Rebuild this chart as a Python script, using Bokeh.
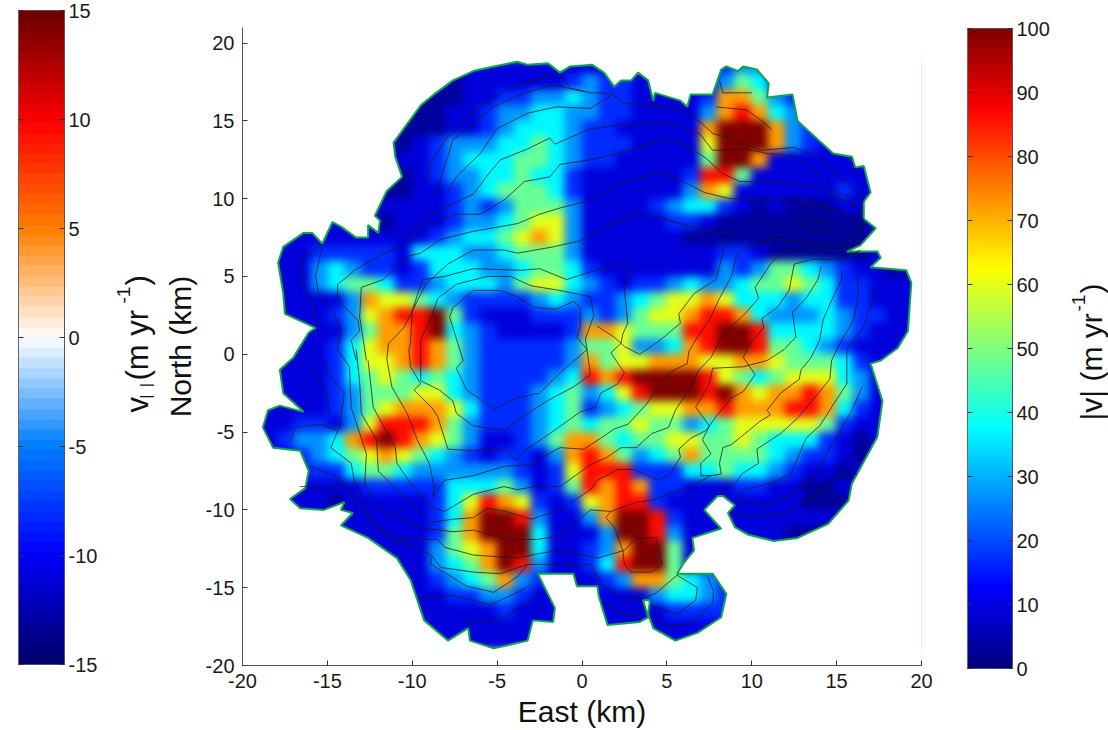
from bokeh.plotting import figure
from bokeh.layouts import row, column
from bokeh.models import LinearAxis, FixedTicker, LinearColorMapper, Range1d, CustomJS
from bokeh.io import curdoc
from bokeh.core.properties import value
from bokeh.embed import file_html
from bokeh.resources import INLINE
import numpy as np

FONT = "Liberation Sans"

# speed classes (m/yr), one digit per 1 km cell
level_speed = [3, 9, 17, 27, 37, 48, 60, 72, 86, 100]
# rows run north to south from y=19 to y=-19, columns west to east from x=-20 to x=20
speed_rows = [
"..... ..... ....1 11111 11... ...23 32... .....",
"..... ..... ..011 11112 32212 ...35 42... .....",
"..... ..... 00011 22334 32211 11277 53211 .....",
"..... ....0 00112 33443 32211 11378 74311 1....",
"..... ....0 00112 34443 22111 11799 97320 .....",
"..... ....0 12333 44543 22211 11699 97321 1....",
"..... ....1 12344 45543 22111 11599 71111 11...",
"..... ....0 12334 45442 11111 12885 11111 11...",
"..... ...00 11234 55542 11111 13761 11111 21...",
"..... ...11 11232 35553 11112 34421 01000 11...",
"..... ...01 11233 45663 11111 22100 00000 00...",
"...11 11111 12344 56763 11111 10000 00000 00...",
"..112 22221 44433 45553 11111 11122 10000 001..",
"..113 43221 24443 34554 21111 11132 35543 21100",
"..113 45542 23444 35664 32122 34334 55654 22111",
"..111 13766 54322 22343 22345 66764 44344 22111",
"..111 23678 89521 11222 32356 67887 43334 32211",
"..111 13577 89432 11112 77655 58899 84444 32111",
"...11 24677 87532 22223 55633 47899 85543 2111.",
"..111 24667 87532 22223 75667 77667 76555 421..",
"...11 24565 45432 22234 87899 99865 45666 431..",
"..111 23555 66432 22345 34689 99897 67787 531..",
".1111 23567 77642 22345 23456 67787 77887 421..",
".1122 13688 87532 22345 45565 53456 66665 211..",
".1233 47898 76531 12357 75455 66556 54442 10...",
"..123 45676 54321 22137 87534 57555 54322 10...",
"...22 24554 33333 32126 88822 24454 43211 0....",
"...11 11222 22444 53125 87872 21112 21100 .....",
"...11 01111 12468 76212 67882 11111 11100 0....",
"..... .1111 12479 98311 37998 21111 11111 .....",
"..... ..111 12579 99411 13998 31111 11000 .....",
"..... ...11 13567 99411 23799 51111 ..... .....",
"..... ....1 13457 98311 24899 51111 ..... .....",
"..... ....1 12345 73211 12377 54322 ..... .....",
"..... ..... 11223 32111 11113 44322 ..... .....",
"..... ..... 11111 21111 11111 22221 ..... .....",
"..... ..... .1111 11111 11111 1111. ..... .....",
"..... ..... ..111 1111. ..... 11... ..... .....",
]

outline = [(-11.1,13.6),(-10.5,14.5),(-9.5,16.0),(-8.6,16.8),(-7.6,17.6),(-6.4,18.2),(-5.2,18.5),(-3.8,18.8),(-3.2,18.6),
(-2.0,18.7),(-1.3,18.1),(-0.7,18.5),(0.6,18.6),(1.3,18.1),(1.9,17.2),(2.3,17.6),(2.9,17.6),(3.3,18.1),(3.9,17.6),(4.2,16.3),
(4.3,16.8),(5.8,16.3),(6.2,15.9),(6.4,16.7),(7.7,16.7),(8.2,18.3),(8.5,18.5),(9.2,18.2),(9.5,18.5),(10.3,18.3),(11.0,17.4),
(10.9,16.5),(12.4,16.7),(12.7,15.0),(13.6,14.1),(14.8,12.9),(15.9,12.7),(16.1,12.0),(16.6,12.1),(17.0,10.4),(16.6,9.8),
(16.6,8.7),(17.3,8.1),(16.4,7.0),(15.6,6.6),(17.4,6.6),(17.6,6.2),(17.0,5.6),(19.1,5.4),(19.4,4.6),(19.2,1.5),(18.6,0.4),
(17.6,-0.4),(17.0,-0.6),(17.7,-3.0),(17.4,-5.3),(15.9,-8.3),(15.7,-9.4),(14.5,-10.9),(12.7,-11.8),(11.3,-12.0),(9.8,-11.6),
(9.0,-11.1),(8.6,-10.2),(9.0,-9.7),(8.3,-9.1),(8.0,-9.1),(7.2,-10.0),(8.2,-11.2),(6.5,-11.8),(6.6,-12.6),(6.0,-13.4),
(5.6,-14.1),(7.7,-14.1),(8.5,-15.4),(8.2,-16.9),(6.8,-17.9),(5.5,-18.4),(4.2,-17.6),(3.9,-16.7),(4.0,-15.8),(3.6,-15.8),
(3.9,-16.9),(3.4,-17.2),(1.5,-17.4),(1.0,-15.6),(0.9,-14.9),(-0.3,-14.9),(-0.5,-14.1),(-2.6,-14.1),(-1.6,-16.3),(-1.7,-17.2),
(-2.9,-17.1),(-3.2,-18.4),(-5.2,-18.9),(-6.6,-18.4),(-6.7,-17.6),(-7.9,-18.4),(-9.3,-17.1),(-10.1,-14.5),(-10.9,-13.1),
(-12.6,-11.8),(-14.2,-11.0),(-13.5,-10.2),(-14.2,-10.0),(-14.0,-9.5),(-15.2,-10.0),(-16.6,-9.9),(-17.2,-9.3),(-16.3,-8.6),
(-16.1,-7.5),(-16.6,-6.2),(-18.2,-6.0),(-18.8,-4.7),(-18.5,-3.6),(-17.8,-3.3),(-16.4,-3.7),(-17.6,-2.5),(-17.8,-1.0),
(-17.0,-0.2),(-16.1,1.4),(-15.7,1.7),(-17.5,2.6),(-17.6,3.9),(-17.9,5.9),(-17.6,6.9),(-16.4,7.8),(-15.9,7.8),(-15.3,7.1),
(-14.7,8.5),(-14.2,8.2),(-13.3,7.5),(-12.6,7.5),(-12.6,8.3),(-12.0,7.8),(-11.9,8.6),(-12.2,8.9),(-11.5,10.5),(-10.6,11.4),(-11.0,12.7)]

contours = [
[(-9.2,11.0),(-8.9,12.3),(-7.9,14.0),(-6.4,15.7),(-4.4,17.0),(-2.5,17.7),(-1.5,18.0),(-1.0,17.6),(-0.7,17.1),(0.5,16.8),(1.1,16.8),(1.8,16.7),(2.5,16.1),(4.4,16.0),(6.0,15.7),(7.2,14.7),(7.7,14.2),(9.2,13.7),(10.5,13.1),(12.5,13.3),(14.0,12.6),(15.4,11.2),(16.6,10.1)],
[(-8.6,10.3),(-7.6,13.8),(-5.2,15.9),(-3.4,16.8),(-1.7,17.3),(0.1,16.9)],
[(-7.9,10.5),(-7.4,11.4),(-6.0,12.9),(-5.0,14.5),(-3.2,15.5),(-1.5,15.9),(0.5,15.8),(1.7,16.6)],
[(-10.8,7.5),(-8.3,9.3),(-6.4,10.3),(-5.5,11.6),(-4.8,12.5),(-3.2,13.2),(-1.9,13.9),(-1.6,13.5),(0.5,14.5),(2.1,14.7),(4.2,14.9),(5.8,14.7),(7.0,14.1),(7.7,13.1),(9.7,13.2),(10.9,12.9),(12.7,12.7),(14.0,11.5),(15.2,10.3),(16.6,9.8)],
[(-13.3,-0.4),(-13.6,0.9),(-13.1,1.5),(-13.2,2.2),(-14.4,3.5),(-14.4,4.5),(-13.8,5.0),(-13.4,5.4),(-11.7,6.5),(-10.7,6.9),(-9.1,8.2),(-7.5,9.0),(-6.0,9.0),(-4.6,9.9),(-3.4,11.1),(-1.9,11.4),(-1.3,12.2),(0.5,12.5),(2.8,13.1),(5.0,13.9),(6.2,13.4),(7.3,12.6),(8.3,11.6),(9.3,11.1),(10.5,11.1),(12.5,11.0),(14.0,10.7),(15.4,9.9),(16.2,9.5),(16.6,8.6),(16.2,7.3),(15.6,6.7),(13.6,6.6),(11.8,6.6),(11.1,5.8),(10.2,4.3),(10.4,3.6),(9.6,2.6),(8.3,1.3),(7.6,-0.2),(6.9,-1.0),(6.4,-2.1),(5.5,-3.6),(5.1,-4.7),(4.1,-5.1),(3.2,-6.0),(2.3,-6.0),(1.5,-6.6),(0.5,-7.1),(-1.3,-8.5),(-2.8,-8.5),(-3.8,-8.7),(-4.6,-8.5),(-6.4,-9.0),(-8.1,-10.1),(-8.9,-9.8),(-10.1,-8.3),(-10.9,-7.0),(-11.0,-6.0),(-12.3,-3.4),(-12.6,-0.4)],
[(-12.7,-0.4),(-13.1,2.4),(-13.0,4.3),(-11.7,4.8),(-10.3,6.3),(-9.5,6.5),(-8.3,7.4),(-6.4,7.9),(-3.8,8.4),(-2.5,9.0),(-1.3,9.4),(0.5,9.9),(2.3,11.0),(4.6,11.7),(5.8,11.2),(7.2,10.4),(8.7,10.0),(10.9,9.9),(12.5,10.0),(14.2,9.5),(15.6,9.0),(16.2,8.4),(16.0,7.8),(15.4,6.9),(12.6,7.3),(11.3,7.4),(9.7,6.9),(9.1,6.3),(8.8,5.0),(8.1,3.6),(7.5,2.2),(6.8,1.1),(6.3,0.2),(6.2,-0.6),(5.1,-1.2),(3.8,-3.2),(2.7,-4.5),(1.9,-4.8),(1.1,-5.4),(0.1,-6.1),(-1.3,-6.0),(-2.3,-6.6),(-3.0,-7.1),(-4.6,-7.2),(-6.4,-7.8),(-8.1,-8.1),(-8.8,-9.2),(-8.7,-8.5),(-9.0,-7.0),(-9.7,-5.5),(-10.3,-3.8),(-11.2,-2.1),(-11.5,-0.3)],
[(-11.5,-0.3),(-11.4,0.7),(-10.5,1.7),(-9.9,3.0),(-9.2,4.5),(-7.9,5.8),(-6.4,6.7),(-4.6,6.7),(-3.8,6.5),(-1.7,6.9),(-0.1,7.3),(1.7,8.4),(3.5,9.1),(5.8,8.4),(7.4,7.9),(8.6,7.8),(8.3,6.5),(7.9,4.8),(6.6,3.9),(5.7,2.6),(5.8,2.0),(4.6,0.9),(3.4,0.0),(2.5,0.5),(1.9,1.1),(0.9,1.8)],
[(-7.0,-0.4),(-7.8,2.4),(-7.6,3.0),(-6.4,4.1),(-4.8,4.1),(-3.8,3.7),(-2.8,3.0),(-1.5,2.9),(-0.5,3.4),(-0.1,3.0),(-0.1,1.8),(-0.3,1.1),(0.3,0.3),(-1.3,-1.2),(-2.5,-2.5),(-3.8,-2.8),(-5.2,-3.5),(-6.8,-2.3),(-7.4,-0.9),(-7.0,-0.4)],
[(-9.5,-0.4),(-9.5,0.9),(-8.8,2.6),(-8.5,3.6),(-7.4,4.5),(-5.6,5.0),(-4.2,5.0),(-3.0,4.4),(-1.3,4.1),(0.5,3.7),(0.7,2.5),(0.2,1.0),(0.5,-1.3),(-0.5,-2.1),(-1.9,-2.9),(-3.5,-4.0),(-4.6,-4.9),(-6.4,-4.6),(-7.4,-3.8),(-7.6,-3.0),(-8.4,-2.3),(-9.5,-1.7),(-9.5,-0.4)],
[(-10.2,0.3),(-10.1,0.7),(-10.0,2.8),(-9.4,4.8),(-8.1,5.0),(-6.4,5.5),(-3.6,5.4),(-2.5,5.5),(-0.9,4.8),(0.5,5.3),(2.5,5.9),(2.8,5.4),(2.5,4.1),(2.7,2.0),(2.4,1.3),(2.3,0.7),(1.7,0.1),(2.5,-1.2),(2.1,-1.9),(1.1,-2.5),(0.8,-3.4),(-0.1,-3.7),(-1.9,-5.1),(-3.4,-6.2),(-3.8,-6.8),(-4.0,-6.7),(-4.6,-6.1),(-6.4,-6.2),(-7.9,-6.1),(-8.5,-4.0),(-8.8,-3.5),(-9.9,-2.3),(-9.5,-1.9),(-10.1,-0.8),(-10.2,0.3)],
[(-13.3,0.3),(-13.1,-1.8),(-13.0,-3.8),(-12.1,-5.5),(-12.0,-7.5),(-10.9,-8.7),(-8.9,-10.8),(-7.6,-10.6),(-6.4,-10.5),(-5.6,-9.9),(-4.5,-10.1),(-3.0,-10.6),(-1.3,-10.0),(0.5,-8.7),(0.9,-8.1),(2.1,-7.4),(3.0,-7.4),(4.5,-8.1),(5.2,-7.7),(5.8,-6.6),(5.7,-6.1),(6.4,-5.4),(7.3,-4.9),(7.9,-4.0),(8.8,-2.8),(9.5,-2.4),(10.2,-1.3),(9.5,-0.2),(9.9,0.7),(10.7,1.7),(10.6,2.3),(11.5,3.0),(12.2,4.1),(12.5,5.8),(13.6,6.1),(15.4,6.1),(16.4,6.7)],
[(-15.3,6.9),(-15.7,5.0),(-15.5,3.9),(-14.6,2.6),(-14.2,1.5),(-14.4,0.3),(-13.7,-0.8),(-13.6,-3.4),(-12.7,-6.4),(-12.8,-8.3),(-12.1,-9.8),(-9.7,-11.1),(-7.6,-11.4),(-6.4,-11.3),(-4.4,-11.9),(-2.7,-11.9),(-1.3,-11.7),(0.5,-10.0),(1.7,-10.1),(3.2,-9.5),(4.0,-9.4),(6.4,-8.5),(7.6,-7.8),(7.0,-7.8),(7.0,-7.0),(7.6,-6.4),(7.1,-5.5),(7.5,-4.6),(6.7,-3.4),(7.5,-1.9),(7.7,-0.9),(9.5,-0.8),(10.9,-0.4),(11.9,0.3),(12.6,1.1),(12.4,2.7),(13.2,3.6),(13.9,4.8),(14.1,5.7)],
[(15.3,5.4),(15.3,4.8),(14.8,3.7),(14.2,2.2),(14.0,0.9),(13.5,-0.2),(12.9,-1.0),(12.8,-1.6),(11.7,-2.5),(10.9,-3.6),(11.1,-3.9),(10.5,-4.3),(8.8,-5.8),(8.3,-6.0),(8.1,-7.0),(8.2,-7.7),(7.6,-7.8)],
[(16.2,5.0),(16.3,3.9),(16.0,2.2),(15.2,0.7),(14.7,-0.4),(14.6,-1.6),(14.0,-2.4),(12.7,-4.1),(11.7,-5.1),(10.3,-6.1),(10.4,-7.0),(9.4,-7.7),(9.1,-8.2),(8.1,-9.0)],
[(17.1,4.5),(17.2,3.7),(16.6,1.8),(15.6,0.3),(15.6,-1.9),(15.0,-2.9),(14.0,-4.6),(13.2,-5.4),(12.3,-7.7),(11.1,-8.3),(9.5,-8.7),(9.1,-9.2)],
[(16.5,-2.1),(15.9,-3.6),(15.0,-5.3),(13.6,-7.9),(12.1,-9.2),(10.9,-9.7),(9.1,-9.4)],
[(16.2,-7.7),(15.0,-7.9),(13.6,-9.2),(11.9,-10.2),(9.9,-10.4),(8.8,-10.2)],
[(-15.2,-0.4),(-15.0,-1.2),(-14.0,-2.5),(-14.3,-4.7),(-14.8,-6.0),(-13.6,-7.0),(-13.4,-8.2),(-12.3,-10.9),(-10.9,-11.9),(-8.5,-11.9),(-8.1,-12.4),(-6.4,-12.9),(-3.8,-13.1),(-2.5,-12.8),(-1.3,-12.6),(0.5,-13.0),(0.9,-13.1),(2.5,-12.6),(3.2,-11.8),(4.4,-11.8),(4.7,-13.5),(4.1,-14.0),(2.9,-14.0),(2.5,-13.5),(2.4,-12.6),(1.9,-11.1),(1.4,-10.5),(1.7,-10.1)],
[(-16.0,-7.2),(-14.4,-7.9),(-13.8,-8.7),(-12.9,-10.2),(-11.5,-11.7),(-8.9,-12.9),(-8.3,-13.7),(-6.4,-14.0),(-4.8,-14.1),(-3.2,-13.5),(-1.3,-13.5),(0.5,-13.5),(1.2,-14.8),(2.5,-15.7),(3.5,-15.7),(4.3,-15.4),(5.6,-14.2),(6.8,-15.0),(6.7,-15.8),(5.6,-16.7),(4.1,-16.2)],
[(-8.9,-13.0),(-8.9,-13.5),(-6.8,-14.9),(-5.2,-15.3),(-3.8,-14.3),(-3.2,-13.5)],
[(-9.5,-15.6),(-7.6,-15.5),(-5.4,-16.1),(-3.6,-15.2),(-3.0,-14.8)],
[(-6.8,-17.3),(-4.8,-17.0),(-3.2,-16.0),(-2.5,-15.2)],
[(7.4,-14.3),(7.75,-15.2),(7.7,-16.0),(6.4,-17.3),(5.0,-17.5),(4.1,-16.7)],
[(1.3,-16.0),(2.5,-16.7),(3.5,-16.7)],
[(-17.2,-5.7),(-16.9,-4.7),(-15.4,-4.5),(-14.4,-4.9)],
[(-16.6,-8.5),(-14.8,-8.5),(-13.8,-8.3)],
[(-15.3,7.1),(-16.4,6.3),(-16.6,5.0),(-15.9,3.3),(-15.6,1.8)],
[(-15.9,-1.0),(-15.0,-2.5),(-14.9,-3.8)],
[(12.6,8.7),(13.2,8.8),(14.4,8.4),(14.6,8.0),(14.0,7.8),(13.0,8.3),(12.6,8.7)],
[(8.1,17.6),(8.3,16.8),(10.0,16.8)],
[(7.9,15.9),(9.7,15.7),(10.6,15.0),(11.2,14.4)],
]

map_ticks_x = [-20, -15, -10, -5, 0, 5, 10, 15, 20]
map_ticks_y = [-20, -15, -10, -5, 0, 5, 10, 15, 20]
left_ticks = [-15, -10, -5, 0, 5, 10, 15]
right_ticks = [0, 10, 20, 30, 40, 50, 60, 70, 80, 90, 100]


def jet(n):
    t = np.linspace(0, 1, n)
    r = np.clip(np.minimum(4 * t - 1.5, -4 * t + 4.5), 0, 1)
    g = np.clip(np.minimum(4 * t - 0.5, -4 * t + 3.5), 0, 1)
    b = np.clip(np.minimum(4 * t + 0.5, -4 * t + 2.5), 0, 1)
    return ["#%02x%02x%02x" % (int(a * 255), int(c * 255), int(d * 255)) for a, c, d in zip(r, g, b)]


def diverging(n):
    anchors_v = [-15, -10, -5, 0, 5, 10, 15]
    anchors_c = [(0, 0, 110), (0, 0, 255), (0, 128, 255), (255, 255, 255), (255, 128, 0), (255, 0, 0), (110, 0, 0)]
    v = np.linspace(-15, 15, n)
    ch = [np.interp(v, anchors_v, [c[k] for c in anchors_c]) for k in range(3)]
    return ["#%02x%02x%02x" % (int(a), int(b), int(c)) for a, b, c in zip(*ch)]


def style_axis(ax, ticks, size="20px"):
    ax.ticker = FixedTicker(ticks=ticks)
    ax.major_label_overrides = {t: str(t) for t in ticks}
    ax.major_label_text_font = FONT
    ax.major_label_text_font_size = size
    ax.major_label_text_color = "#1a1a1a"
    ax.axis_line_color = "#555555"
    ax.major_tick_line_color = "#333333"
    ax.major_tick_in = 5
    ax.major_tick_out = 0
    ax.minor_tick_line_color = None


def colorbar(low, high, ticks, colors, w, h, left, right, top, bottom):
    p = figure(frame_width=w, frame_height=h, x_range=(0, 1), y_range=Range1d(low, high), toolbar_location=None,
               output_backend="svg", min_border_left=left, min_border_right=right, min_border_top=top,
               min_border_bottom=bottom, x_axis_location=None, y_axis_location="left")
    p.grid.visible = False
    mapper = LinearColorMapper(palette=colors, low=low, high=high)
    ramp = np.linspace(low, high, len(colors)).reshape(-1, 1)
    p.image(image=[ramp], x=0, y=low, dw=1, dh=high - low, color_mapper=mapper)
    style_axis(p.yaxis[0], ticks, "1px")
    p.yaxis.major_label_text_color = None
    p.yaxis.major_label_standoff = 0
    ax = LinearAxis()
    style_axis(ax, ticks)
    ax.major_label_standoff = 4
    p.add_layout(ax, "right")
    p.outline_line_color = "#666666"
    p.yaxis[0].axis_line_color = "#666666"
    return p


def text_strip(x0, x1, pieces):
    """A bare panel whose range runs over the page position, holding one rotated colour-bar title."""
    s = figure(frame_width=x1 - x0, frame_height=H, x_range=(x0, x1), y_range=(H, 0), toolbar_location=None,
               output_backend="svg", min_border=0, x_axis_location=None, y_axis_location=None, outline_line_color=None)
    s.grid.visible = False
    for txt, x, y, size in pieces:
        s.text(x=[x], y=[y], text=[txt], angle=np.pi / 2, text_font=value(FONT), text_font_size=value(size),
               text_color="#111111", text_baseline="alphabetic", text_align="left")
    return s


H = 726

# left colour bar
L = colorbar(-15, 15, left_ticks, diverging(64), 46, 654, 18, 46, 10, H - 13 - 654)
T1 = text_strip(115, 165, [("v", 142, 412, "31px"), ("|\u2002|", 150, 398, "15px"), ("(m yr", 142, 380, "31px"),
                           ("-1", 128, 303, "19px"), (")", 142, 285, "31px")])

# map
M = figure(frame_width=679, frame_height=638, x_range=(-20, 20), y_range=(-20, 21), toolbar_location=None,
           output_backend="svg", min_border_left=77, min_border_right=29, min_border_top=27, min_border_bottom=H - 27 - 638)
M.grid.visible = False
M.outline_line_color = None
grid = np.full((len(speed_rows), 40), float(level_speed[1]))
for j, r in enumerate(speed_rows):
    for i, ch in enumerate(r.replace(" ", "")):
        if ch != ".":
            grid[j, i] = level_speed[int(ch)]
mapper = LinearColorMapper(palette=jet(256), low=0, high=100)
M.image(image=[grid[::-1]], x=-20, y=-19, dw=39.9, dh=38, color_mapper=mapper)
ox = [c[0] for c in outline]
oy = [c[1] for c in outline]
M.multi_polygons(xs=[[[[-22, 22, 22, -22], ox]]], ys=[[[[-22, -22, 23, 23], oy]]], fill_color="white", line_color=None)
M.patch(ox, oy, fill_color=None, line_color="#0aa84a", line_width=2)
M.multi_line([[c[0] for c in k] for k in contours], [[c[1] for c in k] for k in contours],
             line_color="#1c1c1c", line_width=0.9, line_alpha=0.85)
for ax, ticks in [(M.xaxis[0], map_ticks_x), (M.yaxis[0], map_ticks_y)]:
    style_axis(ax, ticks)
    ax.axis_label_text_font = FONT
    ax.axis_label_text_font_size = "30px"
    ax.axis_label_text_font_style = "normal"
    ax.axis_label_text_color = "#111111"
    ax.major_label_standoff = 8
M.xaxis.axis_label = "East (km)"
M.yaxis.axis_label = "North (km)"
M.xaxis.axis_label_standoff = 4
M.yaxis.axis_label_standoff = 6

# right colour bar
R = colorbar(0, 100, right_ticks, jet(256), 45, 640, 17, 40, 28, H - 28 - 640)
T2 = text_strip(1052, 1108, [("|v| (m yr", 1091, 420, "30px"), ("-1", 1078, 311, "19px"), (")", 1091, 293, "30px")])

page = row(column(L), T1, column(M), column(R), T2, spacing=0)

# soften the 1 km cells of the one wide picture on screen; the typed values stay as they are
doc = curdoc()
doc.add_root(page)
doc.js_on_event("document_ready", CustomJS(code="""
function walk(root){
  root.querySelectorAll('*').forEach(function(el){
    if (el.tagName === 'image' && el.getBBox().width > 300) {
      el.style.filter = 'blur(4px)';
    }
    if (el.shadowRoot) walk(el.shadowRoot);
  });
}
[50, 300, 1000].forEach(function(t){ setTimeout(function(){ walk(document); }, t); });
"""))
open("out.html", "w").write(file_html(doc, INLINE))
